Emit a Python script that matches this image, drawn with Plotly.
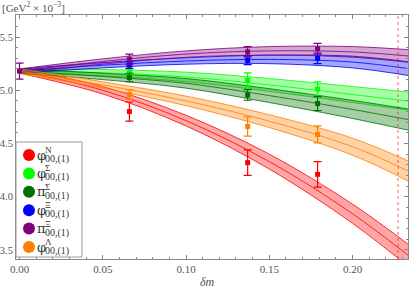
import plotly.graph_objects as go

# ---- data ----
x_pts = [0.066, 0.137, 0.179]
x0_val, x0_err = 5.18, 0.075  # common point at dm = 0

sym = ["φ", "φ", "π", "φ", "π", "φ"]
sups = ["N", "Σ", "Σ", "Ξ", "Ξ", "Λ"]
sub = "00,(1)"
colors = ["#FF0000", "#00FF00", "#007000", "#0000FF", "#800080", "#FF8000"]
fills = ["rgba(255,0,0,0.35)", "rgba(0,255,0,0.35)", "rgba(0,112,0,0.35)",
         "rgba(0,0,255,0.35)", "rgba(128,0,128,0.35)", "rgba(255,128,0,0.35)"]

y_N = [4.80, 4.32, 4.21]
e_N = [0.09, 0.12, 0.12]
y_S = [5.17, 5.094, 5.01]
e_S = [0.03, 0.07, 0.07]
y_piS = [5.12, 4.956, 4.875]
e_piS = [0.04, 0.05, 0.065]
y_X = [5.236, 5.28, 5.30]
e_X = [0.03, 0.04, 0.05]
y_piX = [5.29, 5.36, 5.39]
e_piX = [0.05, 0.05, 0.05]
y_L = [4.96, 4.66, 4.585]
e_L = [0.045, 0.09, 0.08]

# fit bands
x_band = [0, 0.05, 0.10, 0.15, 0.20, 0.235]
c_N = [5.18, 5.00, 4.715, 4.33, 3.84, 3.43]
w_N = [0.02, 0.035, 0.05, 0.07, 0.09, 0.105]
c_S = [5.18, 5.165, 5.125, 5.05, 4.96, 4.895]
w_S = [0.02, 0.03, 0.045, 0.06, 0.075, 0.085]
c_piS = [5.18, 5.13, 5.065, 4.95, 4.82, 4.72]
w_piS = [0.02, 0.03, 0.045, 0.065, 0.085, 0.10]
c_X = [5.18, 5.235, 5.275, 5.29, 5.265, 5.20]
w_X = [0.02, 0.025, 0.03, 0.04, 0.055, 0.065]
c_piX = [5.18, 5.27, 5.34, 5.37, 5.36, 5.32]
w_piX = [0.02, 0.025, 0.03, 0.04, 0.05, 0.06]
c_L = [5.18, 5.05, 4.90, 4.71, 4.47, 4.23]
w_L = [0.02, 0.03, 0.045, 0.06, 0.08, 0.095]

dm_phys = 0.2273

x_ticks = [0.00, 0.05, 0.10, 0.15, 0.20]
x_ticklabels = ["0.00", "0.05", "0.10", "0.15", "0.20"]
y_ticks = [3.5, 4.0, 4.5, 5.0, 5.5]
y_ticklabels = ["3.5", "4.0", "4.5", "5.0", "5.5"]

series = [
    (y_N, e_N, c_N, w_N), (y_S, e_S, c_S, w_S), (y_piS, e_piS, c_piS, w_piS),
    (y_X, e_X, c_X, w_X), (y_piX, e_piX, c_piX, w_piX), (y_L, e_L, c_L, w_L),
]

fig = go.Figure()

# bands
for (yv, ev, cv, wv), col, fc in zip(series, colors, fills):
    up = [c + w for c, w in zip(cv, wv)]
    lo = [c - w for c, w in zip(cv, wv)]
    fig.add_trace(go.Scatter(x=x_band, y=lo, mode="lines", line=dict(color=col, width=0.8, shape="spline"),
                             opacity=0.8, showlegend=False, hoverinfo="skip"))
    fig.add_trace(go.Scatter(x=x_band, y=up, mode="lines", line=dict(color=col, width=0.8, shape="spline"),
                             fill="tonexty", fillcolor=fc, opacity=0.8, showlegend=False, hoverinfo="skip"))
    fig.add_trace(go.Scatter(x=x_band, y=cv, mode="lines", line=dict(color=col, width=1, shape="spline"),
                             opacity=0.8, showlegend=False, hoverinfo="skip"))

# data points
for (yv, ev, cv, wv), col in zip(series, colors):
    fig.add_trace(go.Scatter(x=x_pts, y=yv, mode="markers",
                             marker=dict(symbol="square", size=5, color=col),
                             error_y=dict(type="data", array=ev, color=col, thickness=1.2, width=4),
                             showlegend=False))

# common point at dm=0 (drawn in purple)
fig.add_trace(go.Scatter(x=[0.0], y=[x0_val], mode="markers",
                         marker=dict(symbol="square", size=5, color=colors[4]),
                         error_y=dict(type="data", array=[x0_err], color=colors[4], thickness=1.2, width=4),
                         showlegend=False))

fig.add_shape(type="line", xref="x", yref="paper", x0=dm_phys, x1=dm_phys, y0=0, y1=1,
              line=dict(color="rgba(255,0,0,0.8)", width=0.8, dash="dot"))

# ---- custom legend (pixel offsets from the plot's bottom-left corner) ----
shapes_extra = []
annots = []
shapes_extra.append(dict(type="rect", xref="paper", yref="paper", xsizemode="pixel", ysizemode="pixel",
                         xanchor=0, yanchor=0, x0=0, x1=66, y0=2, y1=117,
                         line=dict(color="#999", width=1), fillcolor="white", layer="above"))
for i, (s, sp, col) in enumerate(zip(sym, sups, colors)):
    cy = 104 - 18.4 * i  # pixels above the bottom of the plot
    shapes_extra.append(dict(type="circle", xref="paper", yref="paper", xsizemode="pixel", ysizemode="pixel",
                             xanchor=0, yanchor=0, x0=7, x1=19, y0=cy - 6, y1=cy + 6,
                             line=dict(color=col, width=0), fillcolor=col, layer="above"))
    annots.append(dict(text=s, xref="paper", yref="paper", x=0, y=0, xanchor="left", yanchor="middle",
                       xshift=19, yshift=cy, showarrow=False,
                       font=dict(family="DejaVu Serif", size=13, color="#333")))
    annots.append(dict(text=sp, xref="paper", yref="paper", x=0, y=0, xanchor="left", yanchor="middle",
                       xshift=28, yshift=cy + 5, showarrow=False, borderpad=0,
                       font=dict(family="Liberation Serif", size=9, color="#333")))
    annots.append(dict(text=sub, xref="paper", yref="paper", x=0, y=0, xanchor="left", yanchor="middle",
                       xshift=28, yshift=cy - 4, showarrow=False, borderpad=0,
                       font=dict(family="Liberation Serif", size=10, color="#333")))

annots.append(dict(text="[GeV<sup>2</sup> × 10<sup>−3</sup>]", xref="paper", yref="paper",
                   x=0, y=1, xanchor="left", yanchor="bottom", showarrow=False, xshift=-16, yshift=-1,
                   font=dict(family="Liberation Serif", size=11, color="#555")))
annots.append(dict(text="<i>δm</i>", xref="paper", yref="paper", x=0.5, y=0, xanchor="center",
                   yanchor="middle", xshift=-5, yshift=-23, showarrow=False,
                   font=dict(family="Liberation Serif", size=12, color="#555")))

axis_common = dict(showline=True, linecolor="#888", linewidth=1, mirror="allticks",
                   ticks="inside", ticklen=4, tickcolor="#888", showgrid=False, zeroline=False,
                   automargin=False)

fig.update_xaxes(range=[-0.0021, 0.2333], tickvals=x_ticks, ticktext=x_ticklabels,
                 minor=dict(dtick=0.01, tick0=0, ticklen=2, ticks="inside", tickcolor="#888"),
                 tickfont=dict(family="Liberation Serif", size=11, color="#555"),
                 **axis_common)
fig.update_yaxes(range=[3.415, 5.707], tickvals=y_ticks, ticktext=y_ticklabels,
                 minor=dict(dtick=0.1, tick0=3.5, ticklen=2, ticks="inside", tickcolor="#888"),
                 tickfont=dict(family="Liberation Serif", size=10.5, color="#555"),
                 ticklabelstandoff=0,
                 **axis_common)

fig.update_layout(
    width=411, height=289,
    margin=dict(l=16, r=3, t=15, b=30),
    paper_bgcolor="white", plot_bgcolor="white",
    font=dict(family="Liberation Serif", color="#555"),
    showlegend=False,
    shapes=list(fig.layout.shapes) + shapes_extra,
    annotations=annots,
)

fig.write_html("out.html", config={"displayModeBar": False},
               post_script="document.body.style.margin='0';document.body.style.padding='0';")
